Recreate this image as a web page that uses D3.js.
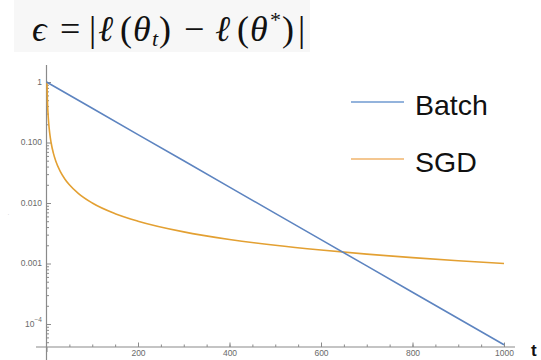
<!DOCTYPE html>
<html><head><meta charset="utf-8">
<script src="https://cdn.jsdelivr.net/npm/d3@7"></script>
<style>body{margin:0;background:#fff}svg{display:block}</style>
</head><body>
<svg id="c" width="541" height="360"></svg>
<script>
// ---- data ----
const batchT = [0, 100, 200, 300, 400, 500, 600, 700, 800, 900, 1000];
const batchVals = [1, 0.368, 0.135, 0.0498, 0.0183, 0.00674, 0.00248, 0.000912, 0.000335, 0.000123, 0.0000454];
const sgdT = [1, 2, 3, 4, 5, 7, 10, 15, 20, 30, 40, 50, 70, 100, 150, 200, 300, 400, 500, 600, 700, 800, 900, 1000];
const sgdVals = [1, 0.5, 0.333, 0.25, 0.2, 0.143, 0.1, 0.0667, 0.05, 0.0333, 0.025, 0.02, 0.0143, 0.01, 0.00667, 0.005, 0.00333, 0.0025, 0.002, 0.00167, 0.00143, 0.00125, 0.00111, 0.001];
const seriesNames = ["Batch", "SGD"];
const xTickVals = [200, 400, 600, 800, 1000];
const xTickLabels = ["200", "400", "600", "800", "1000"];
const xMinorVals = d3.range(50, 1001, 50);
const yTickVals = [1, 0.1, 0.01, 0.001, 0.0001];
const yTickLabels = ["1", "0.100", "0.010", "0.001", "10^-4"];
const yMinorVals = [];
[1e-5, 1e-4, 1e-3, 1e-2, 1e-1].forEach(d => { for (let k = 2; k <= 9; k++) yMinorVals.push(d * k); });

// ---- layout ----
const svg = d3.select("#c");
const x = d3.scaleLinear().domain([0, 1000]).range([46.5, 504]);
const y = d3.scaleLog().domain([1e-4, 1]).range([324, 82]);
const axisY = 347;      // pixel position of the x axis
const axisGray = "#8a8a8a";
const colors = ["#5d84c0", "#e3a032"];
const legendColors = ["#6f9ad0", "#f1b56c"];

// title background + formula (one text, glyphs placed with Mathematica-like spacing)
svg.append("rect").attr("x", 14).attr("y", 0).attr("width", 296).attr("height", 52).attr("fill", "#f7f7f7");
const tf = svg.append("text").attr("y", 41)
  .attr("font-family", "'Liberation Serif','Times New Roman','DejaVu Serif',serif")
  .attr("font-size", 36).attr("fill", "#111");
const glyphs = [
  ["ϵ", 32, 0, 36, true], ["=", 60, 0, 36, false], ["|", 89, 0, 36, false],
  ["ℓ", 98, 0, 36, true], ["(", 120, 0, 36, false], ["θ", 133, 0, 36, true],
  ["t", 152, 5, 22, true], [")", 159, 0, 36, false], ["−", 184, 0, 36, false],
  ["ℓ", 215, 0, 36, true], ["(", 237, 0, 36, false], ["θ", 250, 0, 36, true],
  ["*", 270, -14, 22, false], [")", 282, 0, 36, false], ["|", 298, 0, 36, false]
];
glyphs.forEach(g => {
  tf.append("tspan").attr("x", g[1]).attr("y", 41 + g[2]).attr("font-size", g[3])
    .attr("font-style", g[4] ? "italic" : "normal").text(g[0]);
});

// x axis
const gx = svg.append("g").attr("transform", `translate(0,${axisY})`);
gx.append("line").attr("x1", 36).attr("x2", 515).attr("stroke", axisGray).attr("stroke-width", 1.2);
gx.append("g").call(d3.axisBottom(x).tickValues(xMinorVals).tickSize(-2.5).tickFormat(""))
  .call(g => g.select(".domain").remove())
  .call(g => g.selectAll("line").attr("stroke", axisGray));
gx.append("g").call(d3.axisBottom(x).tickValues(xTickVals).tickSize(-4.5).tickPadding(3)
    .tickFormat((d, i) => xTickLabels[i]))
  .call(g => g.select(".domain").remove())
  .call(g => g.selectAll("line").attr("stroke", axisGray))
  .call(g => g.selectAll("text").attr("fill", "#6a6a6a").attr("font-size", 8.5)
    .attr("font-family", "'Liberation Sans',Arial,sans-serif"));
gx.append("g").call(d3.axisBottom(x).tickValues([0]).tickSize(5).tickFormat(""))
  .call(g => g.select(".domain").remove())
  .call(g => g.selectAll("line").attr("stroke", axisGray));

svg.append("text").attr("x", 531).attr("y", 356).attr("font-family", "'Liberation Sans',Arial,sans-serif")
  .attr("font-size", 17).attr("font-weight", "bold").attr("fill", "#111").text("t");

// y axis
const gy = svg.append("g").attr("transform", `translate(${x(0)},0)`);
gy.append("line").attr("y1", 65).attr("y2", 360).attr("stroke", axisGray).attr("stroke-width", 1.2);
gy.append("g").call(d3.axisLeft(y).tickValues(yMinorVals.filter(v => y(v) < axisY - 2)).tickSize(-2.5).tickFormat(""))
  .call(g => g.select(".domain").remove())
  .call(g => g.selectAll("line").attr("stroke", axisGray));
gy.append("g").call(d3.axisLeft(y).tickValues(yTickVals).tickSize(-4.5).tickPadding(5).tickFormat(""))
  .call(g => g.select(".domain").remove())
  .call(g => g.selectAll("line").attr("stroke", axisGray));
// y labels (with superscript for 10^-4)
const ylab = svg.append("g").attr("font-family", "'Liberation Sans',Arial,sans-serif")
  .attr("font-size", 8.5).attr("fill", "#6a6a6a").attr("text-anchor", "end");
yTickVals.forEach((v, i) => {
  const lbl = yTickLabels[i];
  const t = ylab.append("text").attr("x", x(0) - 4.5).attr("y", y(v)).attr("dy", "0.32em");
  if (lbl.includes("^")) {
    const [b, e] = lbl.split("^");
    t.append("tspan").text(b);
    t.append("tspan").attr("font-size", 6.5).attr("dy", "-0.7em").text(e.replace("-", "−"));
  } else t.text(lbl);
});
svg.append("text").attr("x", 8).attr("y", 217).attr("font-size", 5).attr("fill", "#bbb").text("'");

// lines
const line = d3.line().x(d => x(d[0])).y(d => y(d[1]));
const batch = batchT.map((t, i) => [t, batchVals[i]]);
const sgd = sgdT.map((t, i) => [t, sgdVals[i]]);
const sgdLine = d3.line().curve(d3.curveMonotoneX).x(d => x(d[0])).y(d => y(d[1]));
svg.append("path").datum(sgd).attr("d", sgdLine).attr("fill", "none").attr("stroke", colors[1]).attr("stroke-width", 1.6);
svg.append("path").datum(batch).attr("d", line).attr("fill", "none").attr("stroke", colors[0]).attr("stroke-width", 1.6);

// legend
const leg = svg.append("g");
[102, 159].forEach((ly, i) => {
  leg.append("line").attr("x1", 351).attr("x2", 404).attr("y1", ly).attr("y2", ly)
    .attr("stroke", legendColors[i]).attr("stroke-width", 1.6);
  leg.append("text").attr("x", 415).attr("y", ly + 13).attr("font-family", "'Liberation Sans',Arial,sans-serif")
    .attr("font-size", 28.5).attr("fill", "#111").text(seriesNames[i]);
});
</script>
</body></html>
